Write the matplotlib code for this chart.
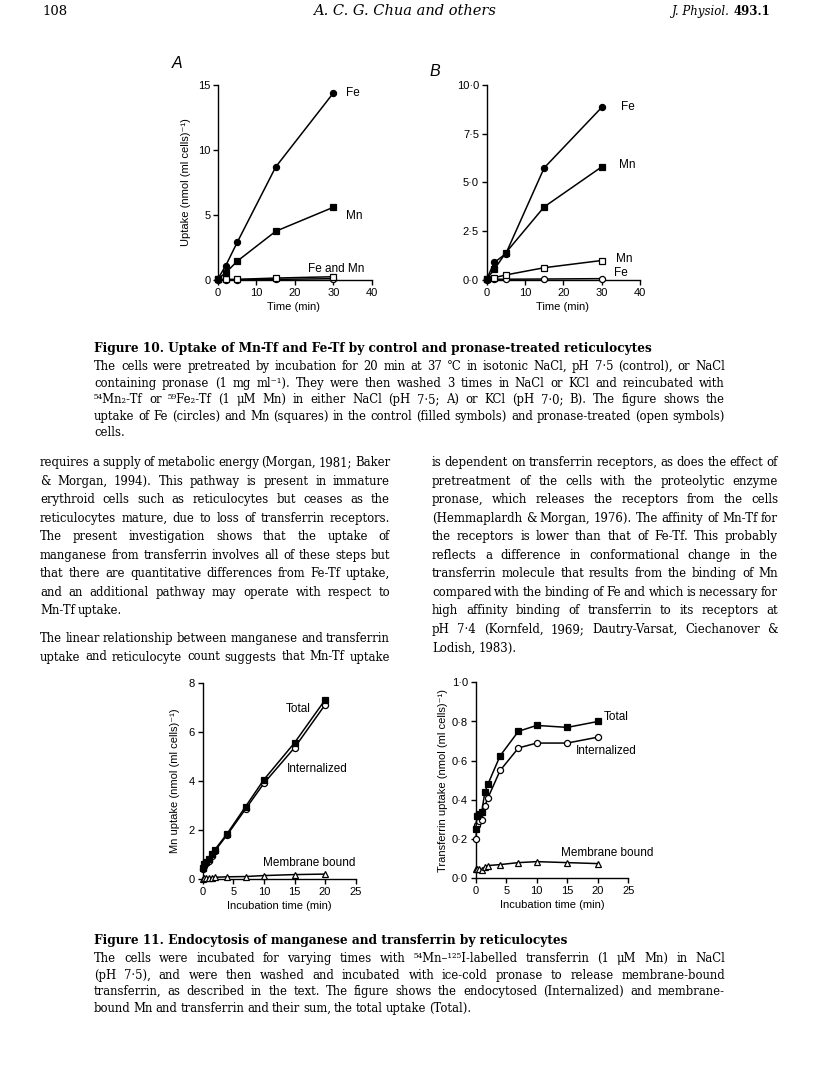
"""Rebuild the scanned J. Physiol. page with Figures 10 and 11."""
import matplotlib
matplotlib.use("Agg")
import matplotlib.pyplot as plt

W, H = 816, 1071
SANS = ["Liberation Sans", "DejaVu Sans"]
SERIF = ["DejaVu Serif", "DejaVu Sans"]

# Figure 10 data
T10 = [0, 2, 5, 15, 30]
A_FE_CTRL = [0.1, 1.1, 2.9, 8.7, 14.4]
A_MN_CTRL = [0.1, 0.55, 1.45, 3.75, 5.6]
A_MN_PRON = [0.05, 0.05, 0.05, 0.15, 0.25]
A_FE_PRON = [0.0, 0.02, 0.03, 0.05, 0.1]
B_FE_CTRL = [0.05, 0.9, 1.35, 5.75, 8.85]
B_MN_CTRL = [0.05, 0.55, 1.4, 3.75, 5.8]
B_MN_PRON = [0.05, 0.12, 0.26, 0.63, 1.0]
B_FE_PRON = [0.02, 0.04, 0.04, 0.05, 0.07]

# Figure 11 data
T11 = [0, 0.25, 0.5, 1, 1.5, 2, 4, 7, 10, 15, 20]
MN_TOTAL = [0.45, 0.6, 0.7, 0.8, 1.0, 1.2, 1.85, 2.95, 4.05, 5.55, 7.3]
MN_INT = [0.4, 0.55, 0.65, 0.75, 0.95, 1.15, 1.8, 2.85, 3.9, 5.35, 7.1]
MN_MEM = [0.02, 0.04, 0.05, 0.05, 0.06, 0.07, 0.09, 0.1, 0.14, 0.18, 0.2]
TF_TOTAL = [0.25, 0.32, 0.33, 0.34, 0.44, 0.48, 0.625, 0.75, 0.78, 0.77, 0.80]
TF_INT = [0.20, 0.27, 0.29, 0.30, 0.37, 0.41, 0.55, 0.665, 0.69, 0.69, 0.72]
TF_MEM = [0.045, 0.05, 0.05, 0.04, 0.06, 0.065, 0.07, 0.08, 0.085, 0.08, 0.075]

CAP10_TITLE = "Figure 10. Uptake of Mn-Tf and Fe-Tf by control and pronase-treated reticulocytes"
CAP10 = [
    "The cells were pretreated by incubation for 20 min at 37 °C in isotonic NaCl, pH 7·5 (control), or NaCl",
    "containing pronase (1 mg ml⁻¹). They were then washed 3 times in NaCl or KCl and reincubated with",
    "⁵⁴Mn₂-Tf or ⁵⁹Fe₂-Tf (1 μM Mn) in either NaCl (pH 7·5; A) or KCl (pH 7·0; B). The figure shows the",
    "uptake of Fe (circles) and Mn (squares) in the control (filled symbols) and pronase-treated (open symbols)",
    "cells.",
]
LEFT_COL = [
    "requires a supply of metabolic energy (Morgan, 1981; Baker",
    "& Morgan, 1994). This pathway is present in immature",
    "erythroid cells such as reticulocytes but ceases as the",
    "reticulocytes mature, due to loss of transferrin receptors.",
    "The present investigation shows that the uptake of",
    "manganese from transferrin involves all of these steps but",
    "that there are quantitative differences from Fe-Tf uptake,",
    "and an additional pathway may operate with respect to",
    "Mn-Tf uptake.",
    "The linear relationship between manganese and transferrin",
    "uptake and reticulocyte count suggests that Mn-Tf uptake",
]
RIGHT_COL = [
    "is dependent on transferrin receptors, as does the effect of",
    "pretreatment of the cells with the proteolytic enzyme",
    "pronase, which releases the receptors from the cells",
    "(Hemmaplardh & Morgan, 1976). The affinity of Mn-Tf for",
    "the receptors is lower than that of Fe-Tf. This probably",
    "reflects a difference in conformational change in the",
    "transferrin molecule that results from the binding of Mn",
    "compared with the binding of Fe and which is necessary for",
    "high affinity binding of transferrin to its receptors at",
    "pH 7·4 (Kornfeld, 1969; Dautry-Varsat, Ciechanover &",
    "Lodish, 1983).",
]
CAP11_TITLE = "Figure 11. Endocytosis of manganese and transferrin by reticulocytes"
CAP11 = [
    "The cells were incubated for varying times with ⁵⁴Mn–¹²⁵I-labelled transferrin (1 μM Mn) in NaCl",
    "(pH 7·5), and were then washed and incubated with ice-cold pronase to release membrane-bound",
    "transferrin, as described in the text. The figure shows the endocytosed (Internalized) and membrane-",
    "bound Mn and transferrin and their sum, the total uptake (Total).",
]

fig = plt.figure(figsize=(W / 100, H / 100), dpi=100)
fig.patch.set_facecolor("white")
renderer = fig.canvas.get_renderer()
FS = 8  # chart text size


def axes_px(left, top, right, bottom):
    return fig.add_axes([left / W, 1 - bottom / H, (right - left) / W, (bottom - top) / H])


def style(ax):
    ax.spines[["top", "right"]].set_visible(False)
    for side in ("left", "bottom"):
        ax.spines[side].set_linewidth(1.0)
    ax.tick_params(direction="out", length=3.5, width=1.0, labelsize=FS, pad=2)
    for lab in ax.get_xticklabels() + ax.get_yticklabels():
        lab.set_family(SANS)


def series(ax, x, y, marker, filled):
    ax.plot(x, y, color="black", lw=1.1, marker=marker, ms=4.4 if marker != "^" else 4.0,
            mfc="black" if filled else "white", mec="black", mew=0.9, clip_on=False, zorder=3)


def label(x, y, s, size=FS + 0.5, ha="left", **kw):
    fig.text(x / W, 1 - y / H, s, fontsize=size, family=SANS, ha=ha, va="center", **kw)


def word_widths(words, size, weight="normal"):
    objs = [fig.text(0, 0, w, fontsize=size, family=SERIF, weight=weight) for w in words]
    widths = [o.get_window_extent(renderer).width for o in objs]
    for o in objs:
        o.remove()
    return widths


def paragraph(lines, x0, x1, ys, size, last_free, min_gap=2.6):
    """Justified lines; the font shrinks for the whole block if a line would not fit."""
    for i, s in enumerate(lines):
        if i in last_free:
            continue
        words = s.split(" ")
        room = x1 - x0 - min_gap * (len(words) - 1)
        size = min(size, size * room / sum(word_widths(words, size)))
    for i, (s, y) in enumerate(zip(lines, ys)):
        words = s.split(" ")
        widths = word_widths(words, size)
        if i in last_free or len(words) == 1:
            gap = size * 0.34
        else:
            gap = (x1 - x0 - sum(widths)) / (len(words) - 1)
        x = x0
        for w, wd in zip(words, widths):
            fig.text(x / W, 1 - y / H, w, fontsize=size, family=SERIF, va="baseline")
            x += wd + gap


def title_line(s, x0, y, size):
    fig.text(x0 / W, 1 - y / H, s, fontsize=size, family=SERIF, weight="bold", va="baseline")


# header
fig.text(42 / W, 1 - 15 / H, "108", fontsize=9.5, family=SERIF, va="baseline")
fig.text(405 / W, 1 - 15 / H, "A. C. G. Chua and others", fontsize=10.5, family=SERIF,
         style="italic", ha="center", va="baseline")
fig.text(672 / W, 1 - 15 / H, "J. Physiol.", fontsize=8.5, family=SERIF, style="italic", va="baseline")
fig.text(734 / W, 1 - 15 / H, "493.1", fontsize=8.5, family=SERIF, weight="bold", va="baseline")

# Figure 10 A
ax = axes_px(215.3, 85, 372, 280)
series(ax, T10, A_FE_PRON, "o", False)
series(ax, T10, A_MN_PRON, "s", False)
series(ax, T10, A_MN_CTRL, "s", True)
series(ax, T10, A_FE_CTRL, "o", True)
ax.set_xlim(-0.7, 40)
ax.set_ylim(0, 15)
ax.spines["left"].set_position(("data", 0))
ax.set_xticks([0, 10, 20, 30, 40])
ax.set_yticks([0, 5, 10, 15])
style(ax)
ax.set_xlabel("Time (min)", fontsize=FS, family=SANS, labelpad=3)
fig.text(186 / W, 1 - 182 / H, "Uptake (nmol (ml cells)⁻¹)", fontsize=FS, family=SANS,
         rotation=90, ha="center", va="center")
fig.text(172 / W, 1 - 63 / H, "A", fontsize=11.5, family=SANS, style="italic", va="center")
label(346, 93, "Fe")
label(346, 216, "Mn")
label(336, 269, "Fe and Mn", ha="center")

# Figure 10 B
ax = axes_px(484, 85, 640, 280)
series(ax, T10, B_FE_PRON, "o", False)
series(ax, T10, B_MN_PRON, "s", False)
series(ax, T10, B_MN_CTRL, "s", True)
series(ax, T10, B_FE_CTRL, "o", True)
ax.set_xlim(-0.7, 40)
ax.set_ylim(0, 10)
ax.spines["left"].set_position(("data", 0))
ax.set_xticks([0, 10, 20, 30, 40])
ax.set_yticks([0, 2.5, 5, 7.5, 10])
ax.set_yticklabels(["0·0", "2·5", "5·0", "7·5", "10·0"])
style(ax)
ax.set_xlabel("Time (min)", fontsize=FS, family=SANS, labelpad=3)
fig.text(430 / W, 1 - 71 / H, "B", fontsize=11.5, family=SANS, style="italic", va="center")
label(621, 107, "Fe")
label(619, 165, "Mn")
label(616, 259, "Mn")
label(614, 273, "Fe")

# Figure 10 caption
title_line(CAP10_TITLE, 94, 352, 8.7)
paragraph(CAP10, 94, 725, [370 + i * 16.6 for i in range(len(CAP10))], 8.4, {len(CAP10) - 1})

# body text, two columns
left_y = [466 + i * 18.55 + (9 if i >= 9 else 0) for i in range(len(LEFT_COL))]
paragraph(LEFT_COL, 40, 390, left_y, 9.3, {8})
right_y = [466 + i * 18.55 for i in range(len(RIGHT_COL))]
paragraph(RIGHT_COL, 432, 778, right_y, 9.3, {len(RIGHT_COL) - 1})

# Figure 11 left
ax = axes_px(202.7, 682.7, 355.7, 879)
series(ax, T11, MN_MEM, "^", False)
series(ax, T11, MN_INT, "o", False)
series(ax, T11, MN_TOTAL, "s", True)
ax.set_xlim(0, 25)
ax.set_ylim(0, 8)
ax.set_xticks([0, 5, 10, 15, 20, 25])
ax.set_yticks([0, 2, 4, 6, 8])
style(ax)
ax.set_xlabel("Incubation time (min)", fontsize=FS, family=SANS, labelpad=3)
fig.text(175 / W, 1 - 781 / H, "Mn uptake (nmol (ml cells)⁻¹)", fontsize=FS, family=SANS,
         rotation=90, ha="center", va="center")
label(298, 709, "Total", ha="center")
label(317, 769, "Internalized", ha="center")
label(309, 863, "Membrane bound", ha="center")

# Figure 11 right
ax = axes_px(475.7, 682.3, 628.3, 878.3)
series(ax, T11, TF_MEM, "^", False)
series(ax, T11, TF_INT, "o", False)
series(ax, T11, TF_TOTAL, "s", True)
ax.set_xlim(0, 25)
ax.set_ylim(0, 1)
ax.set_xticks([0, 5, 10, 15, 20, 25])
ax.set_yticks([0, 0.2, 0.4, 0.6, 0.8, 1.0])
ax.set_yticklabels(["0·0", "0·2", "0·4", "0·6", "0·8", "1·0"])
style(ax)
ax.set_xlabel("Incubation time (min)", fontsize=FS, family=SANS, labelpad=3)
fig.text(443 / W, 1 - 780 / H, "Transferrin uptake (nmol (ml cells)⁻¹)", fontsize=FS, family=SANS,
         rotation=90, ha="center", va="center")
label(604, 717, "Total")
label(606, 751, "Internalized", ha="center")
label(607, 853, "Membrane bound", ha="center")

# Figure 11 caption
title_line(CAP11_TITLE, 94, 944, 8.7)
paragraph(CAP11, 94, 725, [962 + i * 16.6 for i in range(len(CAP11))], 8.4, {len(CAP11) - 1})

fig.savefig("out.png", dpi=100)
